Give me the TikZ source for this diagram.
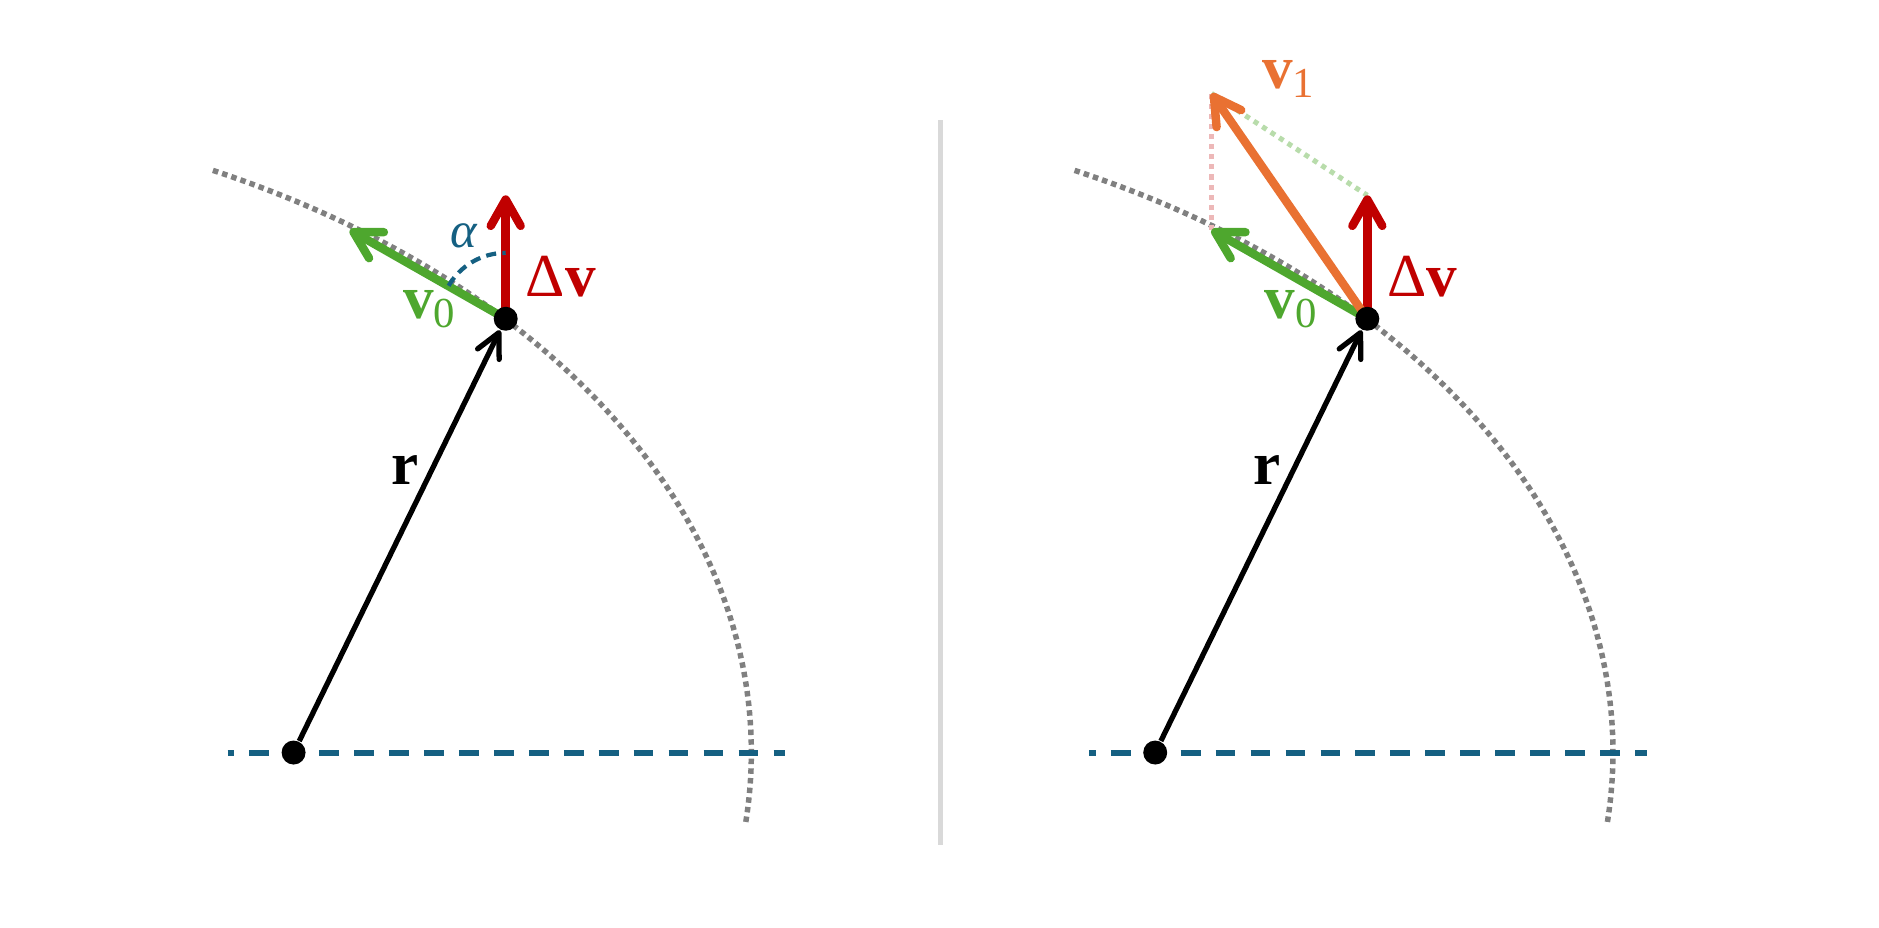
\documentclass[tikz,border=0pt]{standalone}
\usepackage{fontspec}
\setmainfont{Liberation Serif}
\usetikzlibrary{arrows.meta}

\definecolor{orbitgray}{HTML}{808080}
\definecolor{apsisblue}{HTML}{156082}
\definecolor{vgreen}{HTML}{4EA72E}
\definecolor{dvred}{HTML}{C00000}
\definecolor{vorange}{HTML}{E97132}
\definecolor{divgray}{HTML}{D9D9D9}

\tikzset{
	orbit/.style={draw=orbitgray, line width=1.3pt, dash pattern=on 1.3pt off 1pt},
	apsis/.style={draw=apsisblue, line width=1.4pt, dash pattern=on 4.7pt off 3.6pt, dash phase=3.2pt},
	anglearc/.style={draw=apsisblue, line width=1pt, dash pattern=on 2.4pt off 1.5pt},
	vec/.style={line width=2pt, -{Straight Barb[round,length=2.2mm,width=2.5mm]}},
	radius vec/.style={line width=1.25pt, -{Straight Barb[round,length=2mm,width=2mm]}},
	helper/.style={line width=1.2pt, dash pattern=on 1.2pt off 1.2pt},
	dot/.style={circle, fill=black, inner sep=0pt, minimum size=2mm},
	lbl/.style={font=\fontsize{14.5}{16}\selectfont},
}

\begin{document}
\begin{tikzpicture}
		\useasboundingbox (0,0) rectangle (15.68,7.74);

		% Divider
		\draw[divgray, line width=1.3pt] (7.85,0.69) -- (7.85,6.74);

		% -- left side
		\coordinate (O1) at (2.45,1.46);
		\coordinate (P1) at (4.22,5.08);
		\coordinate (v0tipL) at (2.92,5.82);
		\coordinate (dvtipL) at (4.22,6.11);

		\draw[orbit] (1.777,6.318) arc[start angle=64, end angle=-6.4, x radius=8, y radius=5.405];
		\draw[apsis] (1.90,1.46) -- (6.55,1.46);
		\draw[vec, vgreen] (P1) -- (v0tipL);
		\draw[vec, dvred] (P1) -- (dvtipL);
		\draw[anglearc] ([shift={(150:0.55)}]P1) arc[start angle=150, end angle=90, radius=0.55];

		\node[dot] (O1dot) at (O1) {};
		\node[dot] (P1dot) at (P1) {};
		\draw[radius vec] (O1dot) -- (P1dot);

		% Labels
		\node[lbl] (rL) at (3.38,3.82) {\textbf{r}};
		\node[lbl, text=vgreen] (v0L) at (3.59,5.16) {\textbf{v}\textsubscript{0}};
		\node[lbl, text=dvred] (dvL) at (4.68,5.43) {Δ\textbf{v}};
		\node[text=apsisblue, font=\fontsize{12}{13}\selectfont] (alphaL) at (3.87,5.77) {\textit{α}};

		% -- right side
		\coordinate (O2) at (9.64,1.46);
		\coordinate (P2) at (11.41,5.08);
		\coordinate (v0tipR) at (10.11,5.82);
		\coordinate (dvtipR) at (11.41,6.11);
		\coordinate (v1tip) at (10.11,6.96);

		\draw[orbit] (8.967,6.318) arc[start angle=64, end angle=-6.4, x radius=8, y radius=5.405];
		\draw[apsis] (9.09,1.46) -- (13.74,1.46);
		\draw[helper, draw=dvred!28] (v0tipR) -- (v1tip);
		\draw[helper, draw=vgreen!40] (v1tip) -- (dvtipR);
		\draw[vec, vgreen] (P2) -- (v0tipR);
		\draw[vec, dvred] (P2) -- (dvtipR);
		\draw[vec, vorange] (P2) -- (v1tip);

		\node[dot] (O2dot) at (O2) {};
		\node[dot] (P2dot) at (P2) {};
		\draw[radius vec] (O2dot) -- (P2dot);

		% Labels
		\node[lbl] (rR) at (10.57,3.82) {\textbf{r}};
		\node[lbl, text=vgreen] (v0R) at (10.78,5.16) {\textbf{v}\textsubscript{0}};
		\node[lbl, text=dvred] (dvR) at (11.87,5.43) {Δ\textbf{v}};
		\node[lbl, text=vorange] (v1L) at (10.76,7.08) {\textbf{v}\textsubscript{1}};
\end{tikzpicture}
\end{document}
